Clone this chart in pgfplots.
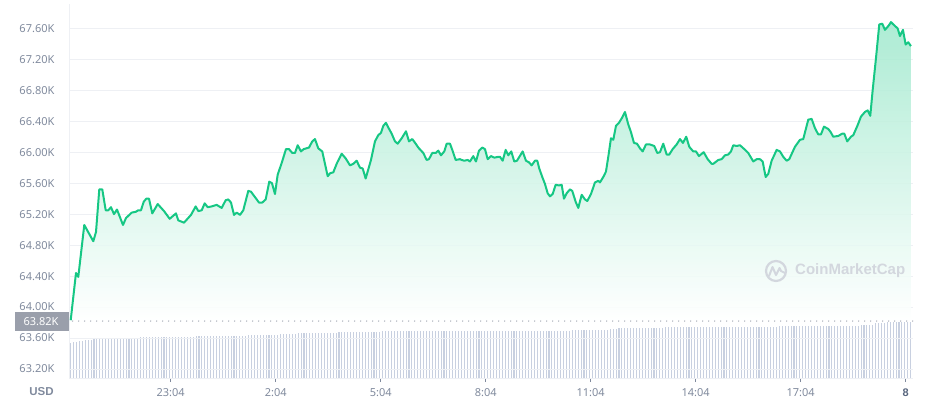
\documentclass[border=0pt]{standalone}
\usepackage{fontspec}
\setmainfont{Noto Sans}
\newfontfamily\boldsans{Liberation Sans}
\usepackage{pgfplots}
\pgfplotsset{compat=1.18}
\usepackage{pgfplotstable}

\definecolor{cmcgreen}{HTML}{16C784}
\definecolor{areatop}{HTML}{A2E9CE}
\definecolor{gridcol}{HTML}{EEF0F4}
\definecolor{labelgray}{HTML}{808A9D}
\definecolor{darkgray}{HTML}{58667E}
\definecolor{volcol}{HTML}{C8D0E0}
\definecolor{boxgray}{HTML}{9A9FAB}
\definecolor{wmgray}{HTML}{D3D7DE}

% price in thousands USD, x in hours after 20:04
\pgfplotstableread{
h v
0.143 63.83
0.294 64.44
0.360 64.39
0.531 65.06
0.789 64.85
0.866 64.97
0.960 65.52
1.046 65.52
1.143 65.25
1.217 65.25
1.294 65.29
1.380 65.20
1.466 65.26
1.637 65.06
1.723 65.15
1.886 65.22
2.000 65.23
2.074 65.25
2.151 65.25
2.229 65.36
2.303 65.40
2.380 65.40
2.474 65.21
2.629 65.33
2.809 65.24
2.971 65.14
3.151 65.21
3.217 65.12
3.380 65.09
3.580 65.19
3.714 65.30
3.789 65.24
3.886 65.25
3.971 65.34
4.057 65.29
4.171 65.30
4.314 65.32
4.457 65.28
4.571 65.38
4.646 65.39
4.723 65.35
4.809 65.19
4.886 65.22
4.980 65.19
5.074 65.25
5.217 65.50
5.294 65.49
5.409 65.42
5.523 65.35
5.617 65.35
5.714 65.39
5.817 65.62
5.894 65.60
5.980 65.46
6.057 65.71
6.171 65.86
6.294 66.04
6.380 66.04
6.474 65.99
6.551 65.99
6.629 66.09
6.723 66.01
6.800 66.04
6.951 66.06
7.046 66.14
7.123 66.17
7.217 66.05
7.331 66.01
7.486 65.69
7.560 65.73
7.646 65.74
7.751 65.86
7.886 65.98
8.000 65.92
8.123 65.83
8.217 65.85
8.314 65.89
8.409 65.80
8.486 65.79
8.571 65.66
8.723 65.90
8.837 66.14
8.931 66.22
9.009 66.25
9.074 66.34
9.151 66.38
9.217 66.32
9.314 66.24
9.409 66.14
9.486 66.11
9.600 66.18
9.723 66.27
9.809 66.14
9.903 66.17
10.000 66.11
10.074 66.06
10.217 65.99
10.314 65.90
10.380 65.91
10.474 65.99
10.571 65.99
10.646 66.02
10.723 65.96
10.817 66.01
10.886 66.11
10.980 66.11
11.046 66.03
11.143 65.90
11.266 65.91
11.314 65.90
11.389 65.89
11.486 65.90
11.551 65.88
11.646 65.95
11.723 65.88
11.809 66.02
11.903 66.06
11.980 66.04
12.057 65.91
12.151 65.95
12.246 65.93
12.360 65.94
12.409 65.94
12.486 65.89
12.571 66.03
12.646 65.96
12.731 66.01
12.817 65.88
12.894 65.89
13.057 66.01
13.151 65.89
13.237 65.87
13.314 65.83
13.409 65.89
13.474 65.89
13.531 65.79
13.617 65.68
13.694 65.59
13.771 65.47
13.837 65.43
13.914 65.46
14.000 65.58
14.094 65.57
14.171 65.58
14.237 65.40
14.314 65.47
14.409 65.52
14.474 65.50
14.571 65.36
14.646 65.28
14.743 65.45
14.837 65.39
14.903 65.37
15.009 65.46
15.123 65.61
15.217 65.63
15.266 65.61
15.360 65.68
15.437 65.75
15.503 65.94
15.580 66.18
15.646 66.16
15.723 66.34
15.809 66.38
15.903 66.45
15.980 66.52
16.074 66.36
16.151 66.26
16.237 66.12
16.323 66.11
16.409 66.05
16.486 66.01
16.580 66.10
16.694 66.10
16.817 66.08
16.903 65.99
16.980 66.00
17.074 66.11
17.171 65.97
17.246 65.97
17.343 66.04
17.457 66.10
17.551 66.17
17.637 66.12
17.731 66.20
17.817 66.07
17.931 66.01
18.009 66.01
18.094 65.95
18.229 66.00
18.343 65.91
18.457 65.85
18.503 65.85
18.646 65.90
18.743 65.91
18.837 65.96
18.931 65.97
19.009 66.01
19.074 66.09
19.171 66.08
19.266 66.09
19.389 66.04
19.503 65.99
19.646 65.88
19.743 65.91
19.837 65.91
19.914 65.88
20.000 65.68
20.074 65.72
20.171 65.89
20.314 66.03
20.409 66.01
20.503 65.94
20.600 65.89
20.674 65.91
20.837 66.07
20.980 66.16
21.074 66.17
21.217 66.42
21.314 66.43
21.409 66.31
21.503 66.23
21.580 66.23
21.666 66.33
21.789 66.30
21.857 66.26
21.931 66.20
22.074 66.21
22.189 66.24
22.246 66.24
22.331 66.14
22.437 66.20
22.503 66.22
22.629 66.35
22.723 66.46
22.837 66.52
22.914 66.54
22.989 66.47
23.057 66.80
23.151 67.21
23.246 67.65
23.331 67.66
23.409 67.58
23.523 67.64
23.580 67.68
23.694 67.63
23.771 67.60
23.837 67.50
23.923 67.58
24.000 67.39
24.074 67.42
24.151 67.37
}\price

\pgfplotsset{
  chartbox/.style={
    at={(69.3pt,24pt)}, anchor=south west,
    scale only axis, width=843.7pt, height=374pt,
    xmin=0.103, xmax=24.21,
  },
}

\begin{document}
\begin{tikzpicture}
\useasboundingbox (0,0) rectangle (931pt,402pt);

% volume bars (5 min), heights in relative units
\begin{axis}[chartbox, ymin=0, ymax=374, hide axis]
\addplot[ycomb, draw=volcol, line width=1.1pt, mark=none]
  table[row sep=\\, header=false, x expr=\coordindex/12+0.143, y index=0] {
35\\36\\36\\37\\37\\38\\38\\38\\39\\39\\39\\39\\
39\\39\\39\\40\\40\\40\\40\\40\\40\\40\\40\\40\\
41\\41\\41\\41\\41\\41\\41\\41\\41\\41\\41\\41\\
41\\41\\41\\41\\41\\41\\41\\42\\42\\42\\42\\42\\
42\\42\\42\\42\\42\\42\\42\\42\\42\\42\\42\\42\\
42\\43\\43\\43\\43\\43\\43\\43\\43\\43\\43\\43\\
44\\44\\44\\44\\44\\44\\45\\45\\45\\45\\45\\45\\
45\\45\\45\\45\\45\\45\\45\\45\\46\\46\\46\\46\\
46\\46\\46\\46\\46\\46\\46\\46\\46\\46\\46\\47\\
47\\47\\47\\47\\47\\47\\47\\47\\47\\47\\47\\47\\
47\\47\\47\\47\\47\\47\\47\\47\\47\\47\\47\\47\\
47\\47\\47\\47\\47\\47\\47\\47\\47\\47\\47\\47\\
47\\47\\47\\47\\47\\47\\47\\47\\47\\47\\47\\47\\
47\\47\\47\\47\\47\\47\\47\\47\\47\\47\\47\\47\\
47\\47\\47\\47\\48\\48\\48\\48\\48\\48\\48\\48\\
48\\48\\48\\48\\48\\49\\49\\49\\50\\50\\50\\50\\
50\\50\\50\\50\\50\\50\\50\\50\\50\\50\\50\\50\\
51\\51\\51\\51\\51\\51\\51\\51\\51\\51\\51\\51\\
51\\51\\51\\51\\51\\51\\51\\51\\51\\51\\51\\51\\
51\\51\\51\\51\\51\\51\\51\\51\\51\\51\\51\\51\\
51\\51\\51\\52\\52\\52\\52\\52\\52\\52\\52\\52\\
52\\52\\52\\52\\52\\52\\52\\52\\52\\52\\52\\52\\
52\\52\\52\\52\\52\\52\\52\\53\\53\\53\\53\\53\\
54.7\\54.7\\55.3\\55.3\\56\\56\\56\\56\\56\\56\\56\\56\\
56\\
};
\end{axis}

% price
\begin{axis}[chartbox, name=main,
  ymin=63.084, ymax=67.914,
  axis lines*=left,
  axis line style={draw=gridcol, line width=0.8pt},
  ymajorgrids, grid style={draw=gridcol, line width=0.8pt},
  ytick={63.2,63.6,64.0,64.4,64.8,65.2,65.6,66.0,66.4,66.8,67.2,67.6},
  yticklabels={63.20K,63.60K,64.00K,64.40K,64.80K,65.20K,65.60K,66.00K,66.40K,66.80K,67.20K,67.60K},
  xtick={3,6,9,12,15,18,21,24},
  xticklabels={23:04,2:04,5:04,8:04,11:04,14:04,17:04,\textcolor{darkgray}{\boldsans\bfseries 8}},
  tick align=outside, major tick length=4pt,
  ytick style={draw=none},
  xtick style={draw=labelgray, line width=1.1pt},
  ticklabel style={font=\fontsize{11}{13}\selectfont, text=labelgray},
  yticklabel style={anchor=west, inner sep=0pt, xshift=-46pt},
  xticklabel style={yshift=-3pt},
  clip=false,
]
\addplot[draw=none, top color=areatop, bottom color=white, fill opacity=0.88]
  table {\price} -- (axis cs:24.151,63.82) -- (axis cs:0.143,63.82) -- cycle;
\draw[draw=boxgray, line width=1.4pt, line cap=round, dash pattern=on 0pt off 6pt]
  (axis cs:0.2,63.82) -- (axis cs:24.21,63.82);
\addplot[draw=cmcgreen, line width=2pt, line join=round, mark=none] table {\price};
\end{axis}

% current price tag, currency, watermark
\fill[boxgray] (15pt,71.3pt) rectangle (69.3pt,90.3pt);
\node[anchor=west, inner sep=0pt, text=white, font=\fontsize{11}{13}\selectfont] at (23.3pt,80.8pt) {63.82K};
\node[text=labelgray, font=\fontsize{11.5}{13}\selectfont\boldsans\bfseries] at (41.5pt,10.3pt) {USD};
\draw[wmgray, line width=2.2pt] (776pt,131pt) circle (10pt);
\draw[wmgray, line width=2pt, line join=round, line cap=round]
  (769pt,126pt) -- (772.5pt,135pt) -- (776pt,127pt) -- (779.5pt,134pt) -- (781pt,131pt) -- (785pt,129pt);
\node[anchor=west, inner sep=0pt, text=wmgray, font=\fontsize{15}{18}\selectfont\boldsans\bfseries] at (795pt,131pt) {CoinMarketCap};
\end{tikzpicture}
\end{document}
